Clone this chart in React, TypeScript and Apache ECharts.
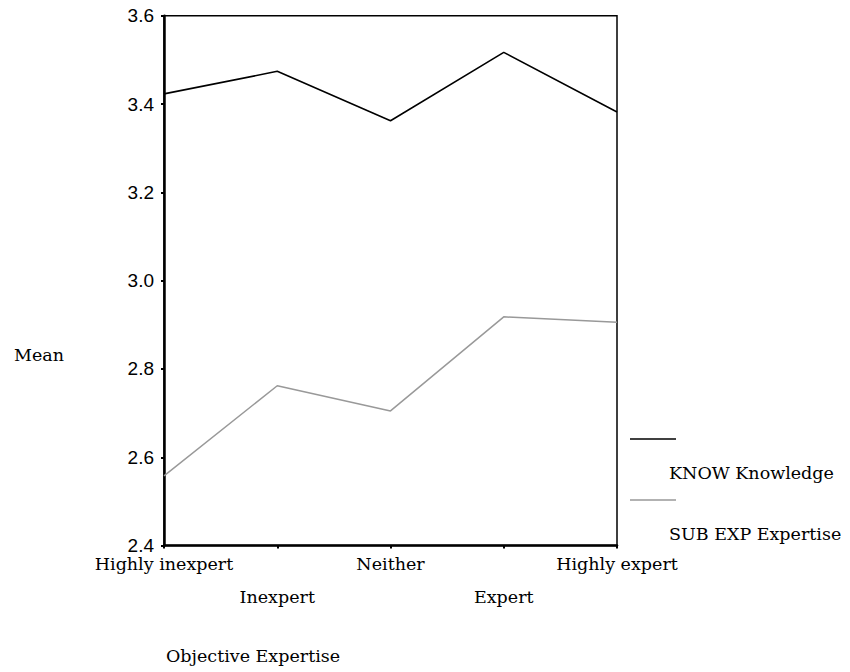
import React, { useEffect, useRef } from "react";
import * as echarts from "echarts";

const categories = ["Highly inexpert", "Inexpert", "Neither", "Expert", "Highly expert"];
const knowValues = [3.423, 3.474, 3.362, 3.517, 3.382];
const subExpValues = [2.558, 2.762, 2.705, 2.918, 2.906];
const seriesNames = ["KNOW Knowledge", "SUB EXP Expertise"];
const seriesColors = ["#000000", "#999999"];
const yTicks = { min: 2.4, max: 3.6, interval: 0.2 };
const xAxisTitle = "Objective Expertise";
const yAxisTitle = "Mean";

const SERIF = "'DejaVu Serif', serif";
const SANS = "'Liberation Sans', Arial, sans-serif";
const SERIF_SIZE = 17.5;

export default function App() {
  const ref = useRef<HTMLDivElement>(null);
  useEffect(() => {
    if (!ref.current) return;
    const chart = echarts.init(ref.current, undefined, { renderer: "svg" });
    const legendGraphics: any[] = [];
    seriesNames.forEach((name, i) => {
      const y = 439 + i * 61;
      legendGraphics.push({
        type: "line",
        shape: { x1: 630, y1: y, x2: 676, y2: y },
        style: { stroke: seriesColors[i], lineWidth: 1.5 },
      });
      legendGraphics.push({
        type: "text",
        x: 669,
        y: y + 34,
        style: { text: name, font: `${SERIF_SIZE}px ${SERIF}`, fill: "#000", textVerticalAlign: "middle" },
      });
    });
    chart.setOption({
      animation: false,
      backgroundColor: "#fff",
      grid: {
        left: 164,
        right: 233,
        top: 15.7,
        bottom: 126.4,
        show: true,
        borderColor: "#000",
        borderWidth: 1.5,
        backgroundColor: "transparent",
      },
      xAxis: {
        type: "category",
        data: categories,
        boundaryGap: false,
        axisLine: { lineStyle: { color: "#000", width: 2.5 } },
        axisTick: { show: true, alignWithLabel: true, length: 3, lineStyle: { color: "#000", width: 2 } },
        axisLabel: {
          interval: 0,
          margin: 2,
          fontFamily: SERIF,
          fontSize: SERIF_SIZE,
          color: "#000",
          lineHeight: 33,
          formatter: (v: string, i: number) => (i % 2 === 1 ? "\n" + v : v),
        },
        splitLine: { show: false },
      },
      yAxis: {
        type: "value",
        min: yTicks.min,
        max: yTicks.max,
        interval: yTicks.interval,
        axisLine: { show: true, lineStyle: { color: "#000", width: 2.5 } },
        axisTick: { show: true, length: 3, lineStyle: { color: "#000", width: 2 } },
        axisLabel: {
          margin: 10,
          fontFamily: SANS,
          fontSize: 19,
          color: "#000",
          formatter: (v: number) => v.toFixed(1),
        },
        splitLine: { show: false },
      },
      series: [
        {
          name: seriesNames[0],
          type: "line",
          data: knowValues,
          symbol: "none",
          lineStyle: { color: seriesColors[0], width: 1.6 },
        },
        {
          name: seriesNames[1],
          type: "line",
          data: subExpValues,
          symbol: "none",
          lineStyle: { color: seriesColors[1], width: 1.5 },
        },
      ],
      graphic: [
        {
          type: "text",
          x: 14,
          y: 355,
          style: { text: yAxisTitle, font: `${SERIF_SIZE}px ${SERIF}`, fill: "#000", textVerticalAlign: "middle" },
        },
        {
          type: "text",
          x: 166,
          y: 656,
          style: { text: xAxisTitle, font: `${SERIF_SIZE}px ${SERIF}`, fill: "#000", textVerticalAlign: "middle" },
        },
        ...legendGraphics,
      ],
    });
    return () => chart.dispose();
  }, []);
  return <div ref={ref} style={{ width: 850, height: 672, position: "absolute", left: 0, top: 0 }} />;
}
